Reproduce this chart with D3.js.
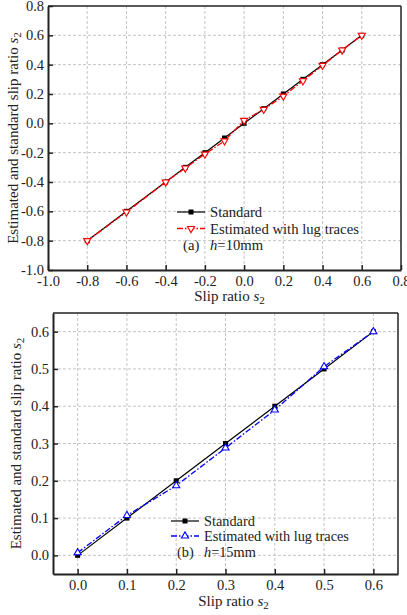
<!DOCTYPE html>
<html>
<head>
<meta charset="utf-8">
<script src="https://cdn.jsdelivr.net/npm/d3@7"></script>
<style>
  body { margin: 0; background: #fff; }
  svg { display: block; }
  text { font-family: "Liberation Serif", "DejaVu Serif", serif; }
</style>
</head>
<body>
<script>
// panel (a) h=10mm
const xsA = [-0.8, -0.6, -0.4, -0.3, -0.2, -0.1, 0.0, 0.1, 0.2, 0.3, 0.4, 0.5, 0.6];
const stdA = [-0.8, -0.6, -0.4, -0.3, -0.2, -0.1, 0.0, 0.1, 0.2, 0.3, 0.4, 0.5, 0.6];
const estA = [-0.8, -0.605, -0.4, -0.305, -0.21, -0.12, 0.02, 0.095, 0.185, 0.29, 0.395, 0.5, 0.6];
const ticksA = [-1.0, -0.8, -0.6, -0.4, -0.2, 0.0, 0.2, 0.4, 0.6, 0.8];

// panel (b) h=15mm
const xsB = [0.0, 0.1, 0.2, 0.3, 0.4, 0.5, 0.6];
const stdB = [0.0, 0.1, 0.2, 0.3, 0.4, 0.5, 0.6];
const estB = [0.007, 0.107, 0.187, 0.288, 0.39, 0.506, 0.6];
const ticksB = [0.0, 0.1, 0.2, 0.3, 0.4, 0.5, 0.6];

const FONT = "Liberation Serif";
const fmt = v => d3.format(".1f")(v).replace("\u2212", "-");

const svg = d3.select("body").append("svg")
  .attr("width", 407)
  .attr("height", 615)
  .attr("font-family", FONT);

function panel(o) {
  const x = d3.scaleLinear().domain(o.domain).range([o.left, o.right]);
  const y = d3.scaleLinear().domain(o.domain).range([o.bottom, o.top]);
  const g = svg.append("g");

  // grid
  g.selectAll(".gx").data(o.ticks.filter(t => x(t) > o.left + 1 && x(t) < o.right - 1))
    .enter().append("line")
    .attr("x1", d => x(d)).attr("x2", d => x(d))
    .attr("y1", o.top).attr("y2", o.bottom)
    .attr("stroke", "#c4c4c4").attr("stroke-dasharray", "3,2");
  g.selectAll(".gy").data(o.ticks.filter(t => y(t) > o.top + 1 && y(t) < o.bottom - 1))
    .enter().append("line")
    .attr("y1", d => y(d)).attr("y2", d => y(d))
    .attr("x1", o.left).attr("x2", o.right)
    .attr("stroke", "#c4c4c4").attr("stroke-dasharray", "3,2");

  // axes, ticks inward
  const styleAxis = a => {
    a.attr("font-family", FONT).attr("font-size", 14.5);
    a.select(".domain").attr("stroke", "#222").attr("stroke-width", 2);
    a.selectAll("line").attr("stroke", "#222").attr("stroke-width", 1.5);
    a.selectAll("text").attr("fill", "#222");
  };
  g.append("g")
    .attr("transform", "translate(0," + o.bottom + ")")
    .call(d3.axisBottom(x).tickValues(o.ticks).tickFormat(fmt).tickSizeInner(-5).tickSizeOuter(0).tickPadding(6))
    .call(styleAxis);
  g.append("g")
    .attr("transform", "translate(" + o.left + ",0)")
    .call(d3.axisLeft(y).tickValues(o.ticks).tickFormat(fmt).tickSizeInner(-5).tickSizeOuter(0).tickPadding(4))
    .call(styleAxis);
  g.append("line").attr("x1", o.left).attr("x2", o.right).attr("y1", o.top).attr("y2", o.top)
    .attr("stroke", "#222").attr("stroke-width", 1.5);
  g.append("line").attr("x1", o.right).attr("x2", o.right).attr("y1", o.top).attr("y2", o.bottom)
    .attr("stroke", "#222").attr("stroke-width", 1.5);

  const line = d3.line().x(d => x(d[0])).y(d => y(d[1]));
  const std = o.xs.map((v, i) => [v, o.std[i]]);
  const est = o.xs.map((v, i) => [v, o.est[i]]);

  g.append("path").datum(std).attr("d", line)
    .attr("fill", "none").attr("stroke", "#000").attr("stroke-width", 1.2);
  g.append("path").datum(est).attr("d", line)
    .attr("fill", "none").attr("stroke", o.color).attr("stroke-width", 1.3)
    .attr("stroke-dasharray", "6,2,1.5,2");

  const tri = d3.symbol().type(d3.symbolTriangle).size(22);
  g.selectAll(".sq").data(std).enter().append("rect")
    .attr("x", d => x(d[0]) - 2.5).attr("y", d => y(d[1]) - 2.5)
    .attr("width", 5).attr("height", 5).attr("fill", "#000");
  g.selectAll(".tr").data(est).enter().append("path")
    .attr("d", tri)
    .attr("transform", d => "translate(" + x(d[0]) + "," + y(d[1]) + ")" + (o.down ? " rotate(180)" : ""))
    .attr("fill", "#fff").attr("stroke", o.color).attr("stroke-width", 1.1);

  // legend
  const L = o.legend;
  g.append("line").attr("x1", L.x0).attr("x2", L.x1).attr("y1", L.y[0]).attr("y2", L.y[0])
    .attr("stroke", "#000").attr("stroke-width", 1.2);
  g.append("rect").attr("x", (L.x0 + L.x1) / 2 - 2.5).attr("y", L.y[0] - 2.5)
    .attr("width", 5).attr("height", 5).attr("fill", "#000");
  g.append("line").attr("x1", L.x0).attr("x2", L.x1).attr("y1", L.y[1]).attr("y2", L.y[1])
    .attr("stroke", o.color).attr("stroke-width", 1.3).attr("stroke-dasharray", "6,2,1.5,2");
  g.append("path").attr("d", tri)
    .attr("transform", "translate(" + (L.x0 + L.x1) / 2 + "," + L.y[1] + ")" + (o.down ? " rotate(180)" : ""))
    .attr("fill", "#fff").attr("stroke", o.color).attr("stroke-width", 1.1);
  g.append("text").attr("x", L.tx).attr("y", L.y[0]).attr("dy", "0.35em")
    .attr("font-size", L.fs).attr("fill", "#222").text("Standard");
  g.append("text").attr("x", L.tx).attr("y", L.y[1]).attr("dy", "0.35em")
    .attr("font-size", L.fs).attr("fill", "#222").text("Estimated with lug traces");
  g.append("text").attr("x", L.lx).attr("y", L.y[2]).attr("dy", "0.35em")
    .attr("font-size", L.fs).attr("fill", "#222").text(o.label);
  const h = g.append("text").attr("x", L.tx).attr("y", L.y[2]).attr("dy", "0.35em")
    .attr("font-size", L.fs).attr("fill", "#222");
  h.append("tspan").attr("font-style", "italic").text("h");
  h.append("tspan").text(o.hval);

  // axis titles
  const xt = g.append("text").attr("x", (o.left + o.right) / 2 + o.xTitleDx).attr("y", o.xTitleY)
    .attr("text-anchor", "middle").attr("font-size", 15).attr("fill", "#222");
  xt.append("tspan").text("Slip ratio ");
  xt.append("tspan").attr("font-style", "italic").text("s");
  xt.append("tspan").attr("font-size", 11).attr("dy", 3).text("2");

  const yt = g.append("text")
    .attr("transform", "translate(" + o.yTitleX + "," + (o.top + o.bottom) / 2 + ") rotate(-90)")
    .attr("text-anchor", "middle").attr("font-size", 15).attr("fill", "#222");
  yt.append("tspan").text("Estimated and standard slip ratio ");
  yt.append("tspan").attr("font-style", "italic").text("s");
  yt.append("tspan").attr("font-size", 11).attr("dy", 3).text("2");
}

panel({
  left: 48, right: 401, top: 6, bottom: 270,
  domain: [-1.0, 0.8], ticks: ticksA,
  xs: xsA, std: stdA, est: estA, color: "#ff0000", down: true,
  label: "(a)", hval: "=10mm",
  legend: { x0: 177, x1: 205, tx: 210, lx: 183, y: [212, 228.5, 245], fs: 14.7 },
  xTitleY: 301, xTitleDx: 5, yTitleX: 18
});

panel({
  left: 53, right: 398, top: 313, bottom: 574,
  domain: [-0.05, 0.65], ticks: ticksB,
  xs: xsB, std: stdB, est: estB, color: "#0000ff", down: false,
  label: "(b)", hval: "=15mm",
  legend: { x0: 171, x1: 199, tx: 204, lx: 177, y: [521, 536, 552], fs: 14.3 },
  xTitleY: 606, xTitleDx: 8, yTitleX: 21
});
</script>
</body>
</html>
